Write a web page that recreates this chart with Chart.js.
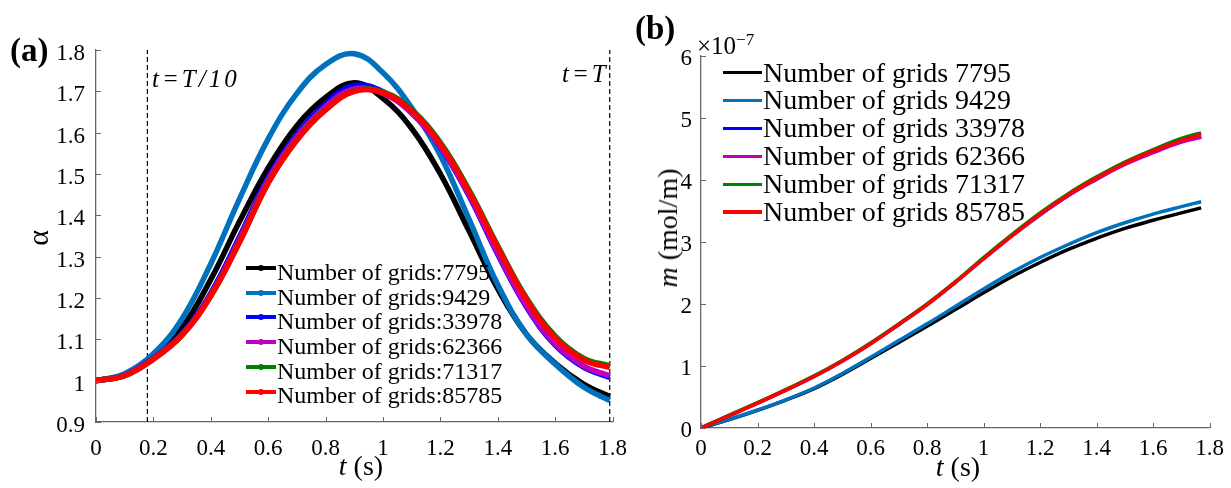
<!DOCTYPE html>
<html>
<head>
<meta charset="utf-8">
<script src="https://cdn.jsdelivr.net/npm/chart.js@4.4.1/dist/chart.umd.min.js"></script>
<style>
  body { margin: 0; background: #fff; }
  #wrap { position: relative; width: 1231px; height: 488px; overflow: hidden;
          font-family: 'Liberation Serif', 'Times New Roman', serif; color: #000; }
  canvas { position: absolute; top: 0; }
  .lbl { position: absolute; white-space: nowrap; line-height: 1; }
  .row { position: absolute; white-space: nowrap; line-height: 1; }
  .swatch { position: absolute; }
</style>
</head>
<body>
<div id="wrap">
  <canvas id="chartA" width="640" height="488" style="left:0"></canvas>
  <canvas id="chartB" width="611" height="488" style="left:620px"></canvas>

  <div class="lbl" style="left:10px; top:34px; font-size:33px; font-weight:bold;">(a)</div>
  <div class="lbl" style="left:635px; top:12px; font-size:33px; font-weight:bold;">(b)</div>

  <div class="lbl" style="left:152px; top:66px; font-size:25px; font-style:italic; letter-spacing:3px;">t=T/10</div>
  <div class="lbl" style="left:562px; top:61px; font-size:25px; font-style:italic; letter-spacing:3px;">t=T</div>

  <div class="lbl" style="left:361px; top:452px; font-size:28px; transform:translateX(-50%);"><i>t</i> (s)</div>
  <div class="lbl" style="left:958px; top:453px; font-size:28px; transform:translateX(-50%);"><i>t</i> (s)</div>
  <div class="lbl" style="left:38px; top:238px; font-size:30px; transform:translate(-50%,-50%) rotate(-90deg);">α</div>
  <div class="lbl" style="left:668px; top:228px; font-size:28px; transform:translate(-50%,-50%) rotate(-90deg);"><i>m</i> (mol/m)</div>

  <div class="lbl" style="left:697px; top:33px; font-size:25px;">×10<span style="font-size:17px; position:relative; top:-9px;">−7</span></div>
</div>

<script>
// grid sizes compared in both panels
const gridNames = ['7795', '9429', '33978', '62366', '71317', '85785'];
const seriesColors = ['#000000', '#0072BD', '#0000FF', '#BF00BF', '#008000', '#FF0000'];
const legendA = gridNames.map(n => 'Number of grids:' + n);
const legendB = gridNames.map(n => 'Number of grids ' + n);

// (a) alpha vs t
const tA = [0, 0.1, 0.2, 0.3, 0.4, 0.5, 0.6, 0.7, 0.8, 0.9, 1.0, 1.1, 1.2, 1.3, 1.4, 1.5, 1.6, 1.7, 1.79];
const alpha7795  = [1.000, 1.015, 1.058, 1.128, 1.245, 1.385, 1.515, 1.617, 1.685, 1.721, 1.683, 1.610, 1.500, 1.362, 1.222, 1.112, 1.042, 0.991, 0.962];
const alpha9429  = [1.000, 1.017, 1.065, 1.150, 1.283, 1.440, 1.585, 1.695, 1.765, 1.791, 1.745, 1.660, 1.545, 1.390, 1.232, 1.112, 1.040, 0.984, 0.952];
const alpha33978 = [1.000, 1.013, 1.055, 1.114, 1.212, 1.348, 1.492, 1.596, 1.670, 1.714, 1.699, 1.648, 1.565, 1.447, 1.305, 1.178, 1.086, 1.032, 1.008];
const alpha62366 = [1.000, 1.013, 1.054, 1.112, 1.208, 1.342, 1.486, 1.590, 1.663, 1.706, 1.695, 1.647, 1.566, 1.450, 1.308, 1.181, 1.089, 1.035, 1.012];
const alpha71317 = [1.000, 1.012, 1.052, 1.110, 1.205, 1.336, 1.479, 1.583, 1.656, 1.701, 1.699, 1.655, 1.576, 1.461, 1.326, 1.200, 1.108, 1.054, 1.036];
const alpha85785 = [1.000, 1.012, 1.052, 1.110, 1.205, 1.335, 1.478, 1.582, 1.655, 1.700, 1.697, 1.652, 1.572, 1.457, 1.322, 1.196, 1.104, 1.050, 1.032];
const alphaSeries = [alpha7795, alpha9429, alpha33978, alpha62366, alpha71317, alpha85785];
const periodMarks = [0.179, 1.79];   // t = T/10 and t = T

// (b) m (x1e-7 mol/m) vs t
const tB = [0, 0.1, 0.2, 0.3, 0.4, 0.5, 0.6, 0.7, 0.8, 0.9, 1.0, 1.1, 1.2, 1.3, 1.4, 1.5, 1.6, 1.7, 1.77];
const m7795  = [0, 0.135, 0.285, 0.45, 0.635, 0.865, 1.12, 1.38, 1.64, 1.91, 2.18, 2.44, 2.67, 2.88, 3.06, 3.22, 3.35, 3.47, 3.55];
const m9429  = [0, 0.14, 0.29, 0.455, 0.645, 0.88, 1.14, 1.41, 1.68, 1.96, 2.24, 2.51, 2.75, 2.96, 3.15, 3.31, 3.45, 3.57, 3.65];
const m33978 = [0, 0.20, 0.40, 0.61, 0.83, 1.08, 1.36, 1.67, 1.99, 2.35, 2.73, 3.10, 3.44, 3.75, 4.02, 4.26, 4.45, 4.62, 4.70];
const m62366 = [0, 0.20, 0.40, 0.61, 0.83, 1.08, 1.36, 1.67, 1.99, 2.35, 2.73, 3.10, 3.44, 3.75, 4.01, 4.25, 4.44, 4.61, 4.69];
const m71317 = [0, 0.21, 0.41, 0.62, 0.84, 1.09, 1.37, 1.68, 2.00, 2.36, 2.75, 3.12, 3.47, 3.78, 4.05, 4.29, 4.49, 4.67, 4.76];
const m85785 = [0, 0.20, 0.40, 0.61, 0.83, 1.08, 1.36, 1.67, 1.99, 2.35, 2.73, 3.10, 3.45, 3.76, 4.03, 4.27, 4.47, 4.64, 4.73];
const massSeries = [m7795, m9429, m33978, m62366, m71317, m85785];

// tick labels
const xTickLabels = ['0', '0.2', '0.4', '0.6', '0.8', '1', '1.2', '1.4', '1.6', '1.8'];
const yTickLabelsA = ['0.9', '1', '1.1', '1.2', '1.3', '1.4', '1.5', '1.6', '1.7', '1.8'];
const yTickLabelsB = ['0', '1', '2', '3', '4', '5', '6'];

const AXIS_COLOR = '#666';
const FONT = "'Liberation Serif', 'Times New Roman', serif";

// MATLAB style ticks pointing into the plot
const inwardTicks = {
  id: 'inwardTicks',
  afterDraw(chart) {
    const { ctx, chartArea, scales } = chart;
    ctx.save();
    ctx.strokeStyle = AXIS_COLOR;
    ctx.lineWidth = 1;
    ctx.beginPath();
    scales.x.ticks.forEach(t => {
      const p = Math.round(scales.x.getPixelForValue(t.value)) + 0.5;
      ctx.moveTo(p, chartArea.bottom);
      ctx.lineTo(p, chartArea.bottom - 5);
    });
    scales.y.ticks.forEach(t => {
      const p = Math.round(scales.y.getPixelForValue(t.value)) + 0.5;
      ctx.moveTo(chartArea.left, p);
      ctx.lineTo(chartArea.left + 5, p);
    });
    ctx.stroke();
    ctx.restore();
  }
};

function axis(labels, min, max, size, pad, offset, isX) {
  return {
    type: 'linear',
    min: min,
    max: max,
    grid: { display: false, drawTicks: false },
    border: { display: true, color: AXIS_COLOR, width: 1.3 },
    ticks: {
      autoSkip: false,
      maxRotation: 0,
      color: '#000',
      padding: pad,
      labelOffset: offset,
      font: { family: FONT, size: 23 },
      callback: (v, i) => labels[i]
    },
    afterBuildTicks: s => { s.ticks = labels.map(l => ({ value: parseFloat(l) })); },
    afterFit: s => { if (isX) s.height = size; else s.width = size; }
  };
}

function lineSets(t, series, width) {
  return series.map((vals, i) => ({
    label: gridNames[i],
    data: t.map((x, k) => ({ x: x, y: vals[k] })),
    borderColor: seriesColors[i],
    backgroundColor: seriesColors[i],
    borderWidth: width,
    pointRadius: 0,
    tension: 0.4,
    order: series.length - i
  }));
}

const dashSets = periodMarks.map(x => ({
  label: 'mark',
  data: [{ x: x, y: 0.9 }, { x: x, y: 1.8 }],
  borderColor: '#000',
  borderWidth: 1.2,
  borderDash: [5, 3],
  pointRadius: 0,
  order: 10
}));

function drawCharts() {
  new Chart(document.getElementById('chartA'), {
    type: 'line',
    data: { datasets: dashSets.concat(lineSets(tA, alphaSeries, 5.5)) },
    options: {
      responsive: false,
      animation: false,
      layout: { padding: { top: 50, right: 23, left: 0, bottom: 0 } },
      plugins: { legend: { display: false }, tooltip: { enabled: false } },
      scales: {
        x: axis(xTickLabels, 0, 1.8, 66, 13, 0, true),
        y: axis(yTickLabelsA, 0.9, 1.8, 96, 11, 4, false)
      }
    },
    plugins: [inwardTicks]
  });

  new Chart(document.getElementById('chartB'), {
    type: 'line',
    data: { datasets: lineSets(tB, massSeries, 3.5) },
    options: {
      responsive: false,
      animation: false,
      layout: { padding: { top: 56, right: 19, left: 0, bottom: 0 } },
      plugins: { legend: { display: false }, tooltip: { enabled: false } },
      scales: {
        x: axis(xTickLabels, 0, 1.8, 60, 7, 0, true),
        y: axis(yTickLabelsB, 0, 6, 81, 9, 3, false)
      }
    },
    plugins: [inwardTicks]
  });
}

// legends drawn as text next to line samples
function buildLegend(names, x0, y0, dy, lineW, lineH, gap, fontSize, textShift, withDot) {
  const wrap = document.getElementById('wrap');
  names.forEach((name, i) => {
    const y = y0 + i * dy;
    const sw = document.createElement('div');
    sw.className = 'swatch';
    sw.style.cssText = `left:${x0}px; top:${y - lineH / 2}px; width:${lineW}px; height:${lineH}px; background:${seriesColors[i]};`;
    wrap.appendChild(sw);
    if (withDot) {
      const dot = document.createElement('div');
      dot.className = 'swatch';
      dot.style.cssText = `left:${x0 + lineW / 2 - 3}px; top:${y - 3}px; width:6px; height:6px; border-radius:3px; background:${seriesColors[i]};`;
      wrap.appendChild(dot);
    }
    const tx = document.createElement('div');
    tx.className = 'row';
    tx.style.cssText = `left:${x0 + lineW + gap}px; top:${y + textShift - fontSize * 0.506}px; font-size:${fontSize}px;`;
    tx.textContent = name;
    wrap.appendChild(tx);
  });
}
buildLegend(legendA, 246, 268, 24.7, 30, 4, 1, 24, 4, true);
buildLegend(legendB, 723, 72.7, 27.9, 39, 3.5, 1, 28, 0, false);

Promise.all([
  document.fonts.load('23px "Liberation Serif"'),
  document.fonts.load('italic 25px "Liberation Serif"')
]).then(drawCharts, drawCharts);
</script>
</body>
</html>
